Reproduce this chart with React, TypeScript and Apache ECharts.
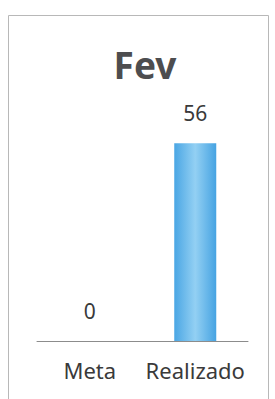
import React, { useEffect, useRef } from "react";
import * as echarts from "echarts";

const categories = ["Meta", "Realizado"];
const values = [0, 56];
const titleText = "Fev";

export default function App() {
  const ref = useRef<HTMLDivElement>(null);
  useEffect(() => {
    const chart = echarts.init(ref.current!, null, { renderer: "svg" });
    chart.setOption({
      animation: false,
      backgroundColor: "#ffffff",
      title: {
        text: titleText,
        left: 140,
        textAlign: "center",
        top: 41,
        textStyle: {
          fontFamily: "Noto Sans",
          fontWeight: "bold",
          fontSize: 37,
          color: "#4d4d4f",
        },
      },
      graphic: [
        {
          type: "rect",
          shape: { x: 8.5, y: 15.5, width: 260, height: 400 },
          style: { fill: "none", stroke: "#b8b8b8", lineWidth: 1 },
          silent: true,
        },
      ],
      grid: { left: 37, right: 27, top: 129, bottom: 58 },
      xAxis: {
        type: "category",
        data: categories,
        axisLine: { lineStyle: { color: "#8c8c8c", width: 1 } },
        axisTick: { show: false },
        axisLabel: {
          interval: 0,
          fontFamily: "Noto Sans",
          fontSize: 22,
          color: "#3a3a3a",
          margin: 18,
        },
      },
      yAxis: {
        type: "value",
        min: 0,
        max: 60,
        show: false,
        splitLine: { show: false },
      },
      series: [
        {
          type: "bar",
          data: values,
          barWidth: 42,
          itemStyle: {
            color: new echarts.graphic.LinearGradient(0, 0, 1, 0, [
              { offset: 0, color: "#4aa6e4" },
              { offset: 0.5, color: "#93d0f3" },
              { offset: 1, color: "#46a3e2" },
            ]),
          },
          label: {
            show: true,
            position: "top",
            distance: 20,
            fontFamily: "Noto Sans",
            fontSize: 21,
            color: "#3a3a3a",
          },
        },
      ],
    });
    return () => chart.dispose();
  }, []);
  return (
    <div
      ref={ref}
      style={{ position: "fixed", left: 0, top: 0, width: 275, height: 399 }}
    />
  );
}
